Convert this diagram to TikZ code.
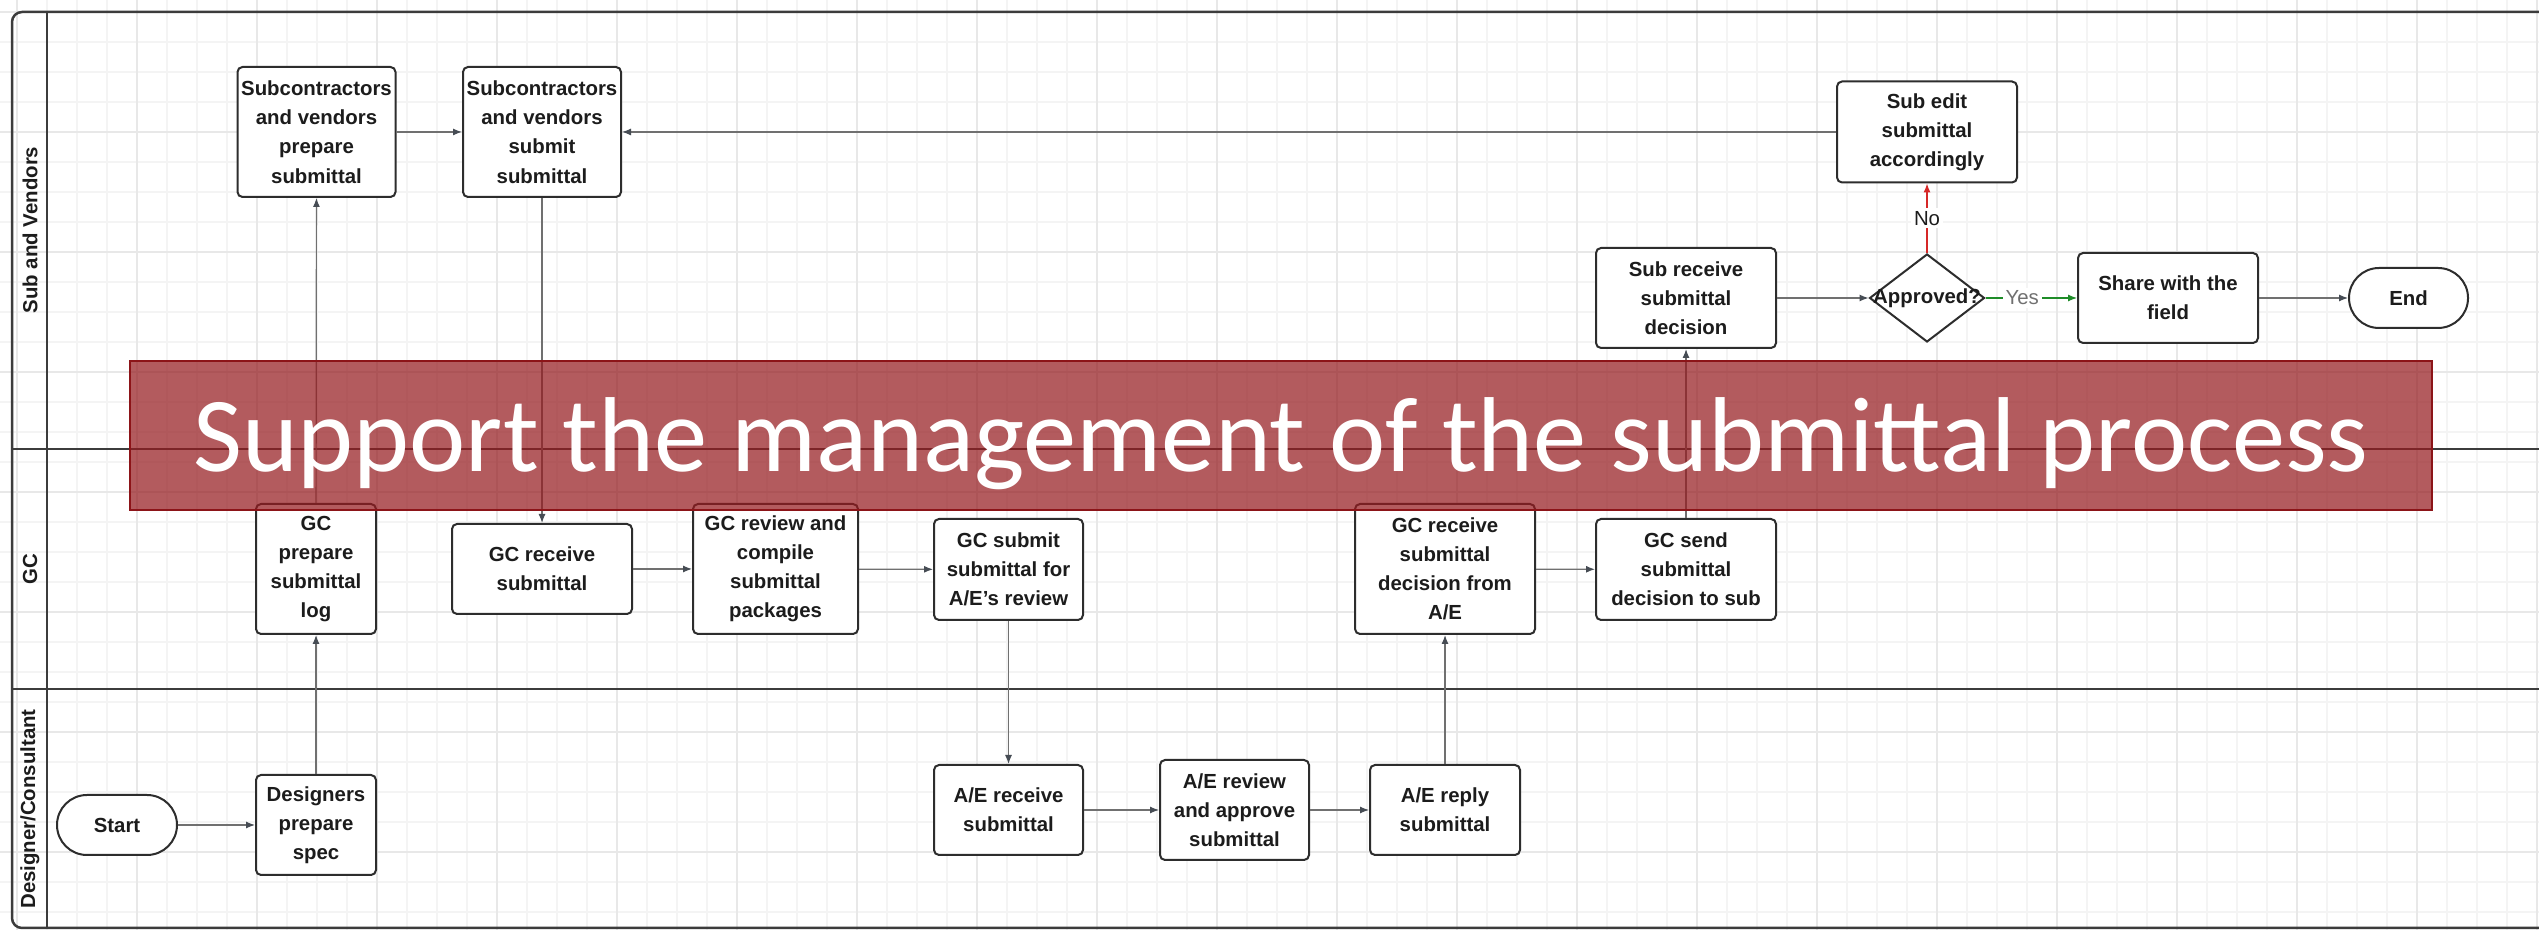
\documentclass[tikz,border=0pt]{standalone}
\usepackage{fontspec}
\setmainfont{Liberation Sans}
\newfontfamily\bannerfont{Carlito}
\usepackage{tikz}
\usetikzlibrary{arrows.meta,shapes.geometric}
\definecolor{gridminor}{RGB}{244,244,244}
\definecolor{gridmajor}{RGB}{232,232,232}
\definecolor{laneline}{RGB}{60,60,60}
\definecolor{boxline}{RGB}{45,45,45}
\definecolor{boxtext}{RGB}{28,28,28}
\definecolor{flowgray}{RGB}{112,112,112}
\definecolor{tipgray}{RGB}{70,76,84}
\definecolor{nored}{RGB}{214,40,40}
\definecolor{yesgreen}{RGB}{30,140,40}
\definecolor{bannerfill}{RGB}{150,28,32}
\definecolor{bannerline}{RGB}{140,20,24}

\tikzset{
    stepbox/.style={draw=boxline,line width=0.2mm,fill=white,rounded corners=0.5mm,align=center,inner sep=0pt,text=boxtext,font=\fontsize{5.8}{8.3}\selectfont\bfseries},
    terminal/.style={stepbox,rounded corners=3mm,minimum width=12mm,minimum height=6mm},
    decision/.style={diamond,draw=boxline,line width=0.2mm,fill=white,inner sep=0pt,minimum width=11.5mm,minimum height=8.8mm},
    lanelabel/.style={rotate=90,text=boxtext,font=\fontsize{5.8}{8.3}\selectfont\bfseries},
    lanerule/.style={draw=laneline,line width=0.25mm},
    flow/.style={draw=flowgray,line width=0.12mm,-{Latex[length=0.9mm,width=0.7mm,color=tipgray]}},
    nolink/.style={flow,draw=nored,-{Latex[length=0.9mm,width=0.7mm]}},
    yeslink/.style={flow,draw=yesgreen,-{Latex[length=0.9mm,width=0.7mm]}},
    edgelabel/.style={fill=white,inner sep=0.3mm,font=\fontsize{5.8}{7}\selectfont},
    banner/.style={draw=bannerline,line width=0.2mm,fill=bannerfill,fill opacity=0.72,text opacity=1,text=white,font=\bannerfont\fontsize{30.3}{36}\selectfont,minimum width=230.2mm,minimum height=14.9mm,text height=7.3mm,text depth=0pt,inner sep=0pt}
}

\begin{document}
    \begin{tikzpicture}[x=0.1mm,y=-0.1mm]
        \useasboundingbox[fill=white] (0,0) rectangle (2539,930);
        \begin{scope}[shift={(17,12)}]
            \draw[gridminor,line width=0.15mm,step=3mm] (-17,-12) grid (2522,918);
            \draw[gridmajor,line width=0.15mm,step=12mm] (-17,-12) grid (2522,918);
        \end{scope}
        \draw[lanerule,rounded corners=1mm] (2539,12) -- (12,12) -- (12,928) -- (2539,928);
        \draw[lanerule] (47,12) -- (47,928);
        \draw[lanerule] (12,449) -- (2539,449);
        \draw[lanerule] (12,689) -- (2539,689);
        \node[lanelabel] (lanesub) at (30,230) {Sub and Vendors};
        \node[lanelabel] (lanegc) at (30,569) {GC};
        \node[lanelabel] (lanedesign) at (30,809) {Designer/Consultant};

        \node[stepbox,minimum width=15.8mm,minimum height=13mm] (subprep) at (316.5,132) {Subcontractors\\and vendors\\prepare\\submittal};
        \node[stepbox,minimum width=15.8mm,minimum height=13mm] (subsubmit) at (542,132) {Subcontractors\\and vendors\\submit\\submittal};
        \node[stepbox,minimum width=18mm,minimum height=10.1mm] (subedit) at (1927,132) {Sub edit\\submittal\\accordingly};
        \node[stepbox,minimum width=18mm,minimum height=10mm] (subrecv) at (1686,298) {Sub receive\\submittal\\decision};
        \node[decision,label={[text=boxtext,font=\fontsize{5.8}{7}\selectfont\bfseries]center:Approved?}] (approved) at (1927,298) {};
        \node[stepbox,minimum width=18mm,minimum height=9mm] (share) at (2168,298) {Share with the\\field};
        \node[terminal,minimum width=11.9mm] (endnode) at (2408.5,298) {End};

        \node[stepbox,minimum width=12mm,minimum height=13mm] (gclog) at (316,569) {GC\\prepare\\submittal\\log};
        \node[stepbox,minimum width=18mm,minimum height=9mm] (gcrecv) at (542,569) {GC receive\\submittal};
        \node[stepbox,minimum width=16.5mm,minimum height=13mm] (gcreview) at (775.5,569) {GC review and\\compile\\submittal\\packages};
        \node[stepbox,minimum width=14.9mm,minimum height=10.1mm] (gcsubmit) at (1008.5,569.5) {GC submit\\submittal for\\A/E's review};
        \node[stepbox,minimum width=18mm,minimum height=13mm] (gcdecision) at (1445,569) {GC receive\\submittal\\decision from\\A/E};
        \node[stepbox,minimum width=18mm,minimum height=10.1mm] (gcsend) at (1686,569.5) {GC send\\submittal\\decision to sub};

        \node[terminal] (start) at (117,825) {Start};
        \node[stepbox,minimum width=12mm,minimum height=10mm] (spec) at (316,825) {Designers\\prepare\\spec};
        \node[stepbox,minimum width=14.9mm,minimum height=9mm] (aerecv) at (1008.5,810) {A/E receive\\submittal};
        \node[stepbox,minimum width=14.9mm,minimum height=10mm] (aereview) at (1234.5,810) {A/E review\\and approve\\submittal};
        \node[stepbox,minimum width=15mm,minimum height=9mm] (aereply) at (1445,810) {A/E reply\\submittal};

        \draw[flow] (start) -- (spec);
        \draw[flow] (spec) -- (gclog);
        \draw[flow] (gclog) -- (subprep);
        \draw[flow] (subprep) -- (subsubmit);
        \draw[flow] (subsubmit) -- (gcrecv);
        \draw[flow] (gcrecv) -- (gcreview);
        \draw[flow] (gcreview) -- (gcsubmit);
        \draw[flow] (gcsubmit) -- (aerecv);
        \draw[flow] (aerecv) -- (aereview);
        \draw[flow] (aereview) -- (aereply);
        \draw[flow] (aereply) -- (gcdecision);
        \draw[flow] (gcdecision) -- (gcsend);
        \draw[flow] (gcsend) -- (subrecv);
        \draw[flow] (subrecv) -- (approved);
        \draw[nolink] (approved) -- node[edgelabel,text=boxtext] {No} (subedit);
        \draw[yeslink] (approved) -- node[edgelabel,text=flowgray,pos=0.4] {Yes} (share);
        \draw[flow] (share) -- (endnode);
        \draw[flow] (subedit) -- (subsubmit);

        \node[banner] (title) at (1281,435.5) {Support the management of the submittal process};
    \end{tikzpicture}
\end{document}
